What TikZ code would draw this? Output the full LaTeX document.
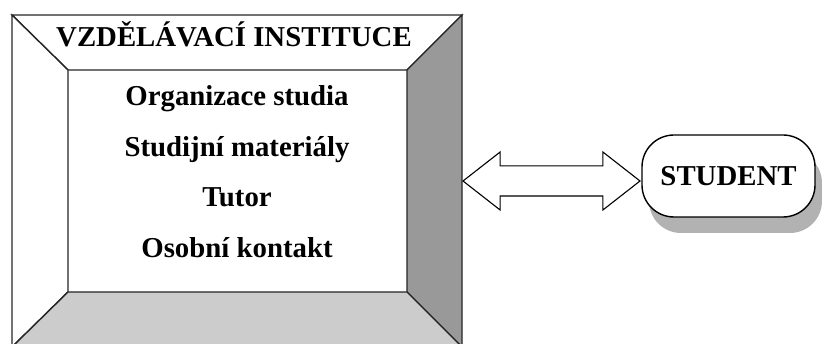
\documentclass[tikz,border=0pt]{standalone}
\usepackage{fontspec}
\setmainfont{Liberation Serif}
\usetikzlibrary{shapes.arrows,shadows}

\begin{document}
\begin{tikzpicture}[x=1pt,y=-1pt,
    wall/.style={draw=black!85,line width=1.4pt,line join=miter},
    label/.style={font=\bfseries\fontsize{28.8}{30}\selectfont,inner sep=0pt,anchor=base},
    student/.style={draw,line width=1.4pt,fill=white,rounded corners=32pt,
        minimum width=173pt,minimum height=82pt,inner sep=0pt,
        font=\bfseries\fontsize{28.8}{30}\selectfont,
        drop shadow={shadow xshift=7pt,shadow yshift=-16pt,fill=black!30,opacity=1}},
    link/.style={double arrow,draw,line width=1.1pt,fill=white,inner sep=14.5pt,
        minimum height=177pt,minimum width=57pt,double arrow head extend=14pt,
        double arrow tip angle=76}]
    \useasboundingbox (0,0) rectangle (822,344);

    % Steny
    \draw[wall,fill=white] (12,15) -- (462,15) -- (407,70) -- (68,70) -- cycle;
    \draw[wall,fill=white] (12,15) -- (68,70) -- (68,292) -- (12,347) -- cycle;
    \draw[wall,fill=black!40] (462,15) -- (462,347) -- (407,292) -- (407,70) -- cycle;
    \draw[wall,fill=black!20] (68,292) -- (407,292) -- (462,347) -- (12,347) -- cycle;

    % Popisky
    \node[label] (inst) at (234,47) {VZDĚLÁVACÍ INSTITUCE};
    \node[label] (org) at (237,106) {Organizace studia};
    \node[label] (mat) at (237,157) {Studijní materiály};
    \node[label] (tutor) at (237,207) {Tutor};
    \node[label] (kontakt) at (237,258) {Osobní kontakt};

    % Student
    \node[student] (stud) at (728.5,176) {STUDENT};
    \node[link] (link) at (551.5,181) {};
\end{tikzpicture}
\end{document}
